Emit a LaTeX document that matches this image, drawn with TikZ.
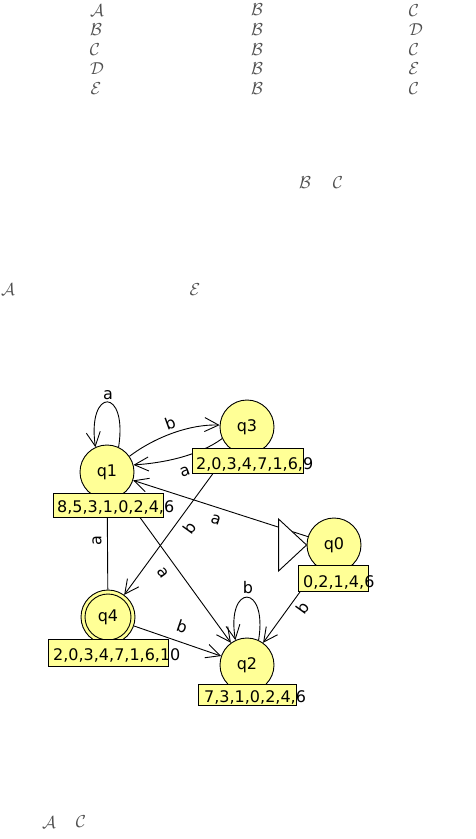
\documentclass[tikz,border=0pt]{standalone}
\usepackage{fontspec}
\setmainfont{DejaVu Sans}
\usetikzlibrary{arrows.meta,backgrounds}
\definecolor{stfill}{RGB}{255,255,150}
\definecolor{calgray}{RGB}{80,80,80}
\begin{document}
\begin{tikzpicture}[x=1pt,y=-1pt,
  state/.style={circle,draw,fill=stfill,minimum size=54pt,inner sep=0pt,line width=0.9pt,font=\fontsize{16}{16}\selectfont},
  lbox/.style={draw,fill=stfill,line width=0.9pt,inner sep=0pt,anchor=north west},
  lbl/.style={font=\fontsize{16}{16}\selectfont,inner sep=0pt,anchor=base west},
  elab/.style={font=\fontsize{16}{16}\selectfont,inner sep=0pt},
  edge/.style={line width=0.9pt,-{Straight Barb[length=14pt,width=14pt]}},
  cal/.style={text=calgray,font=\fontsize{17.28}{17.28}\selectfont,inner sep=0pt}]
\useasboundingbox (0,0) rectangle (475,839);
% calligraphic letters
\node[cal] (r1a) at (97,11) {$\mathcal{A}$};
\node[cal] (r1b) at (257,10) {$\mathcal{B}$};
\node[cal] (r1c) at (414,11) {$\mathcal{C}$};
\node[cal] (r2a) at (96,30) {$\mathcal{B}$};
\node[cal] (r2b) at (257,30) {$\mathcal{B}$};
\node[cal] (r2c) at (416,30) {$\mathcal{D}$};
\node[cal] (r3a) at (95,50) {$\mathcal{C}$};
\node[cal] (r3b) at (257,50) {$\mathcal{B}$};
\node[cal] (r3c) at (414,50) {$\mathcal{C}$};
\node[cal] (r4a) at (97,69) {$\mathcal{D}$};
\node[cal] (r4b) at (257,69) {$\mathcal{B}$};
\node[cal] (r4c) at (414,69) {$\mathcal{E}$};
\node[cal] (r5a) at (96,89) {$\mathcal{E}$};
\node[cal] (r5b) at (257,89) {$\mathcal{B}$};
\node[cal] (r5c) at (414,89) {$\mathcal{C}$};
\node[cal] (m1) at (305,183) {$\mathcal{B}$};
\node[cal] (m2) at (338,183) {$\mathcal{C}$};
\node[cal] (m3) at (8,290) {$\mathcal{A}$};
\node[cal] (m4) at (195,290) {$\mathcal{E}$};
\node[cal] (f1) at (49,823) {$\mathcal{A}$};
\node[cal] (f2) at (81,822) {$\mathcal{C}$};
% states
\node[state] (q1) at (107,472) {q1};
\node[state] (q3) at (247,427) {q3};
\node[state] (q0) at (334,545) {q0};
\node[state] (q4) at (108,617) {};
\node[state,minimum size=46pt] (q4in) at (q4) {q4};
\node[state] (q2) at (247,665) {q2};
% initial triangle
\draw[fill=white,line width=0.9pt] (q0.west) -- ++(-28,-26) -- ++(0,52) -- cycle;
% edges
\begin{scope}[on background layer]
\fill[white] (0,0) rectangle (475,839);
\draw[edge] (q1.65) .. controls (128,387) and (87,387) .. (q1.115);
\draw[edge] (q2.65) .. controls (268,583) and (226,583) .. (q2.115);
\draw[edge] (q1.35) .. controls (155,437) and (190,424) .. (q3.176);
\draw[edge] (q3.205) .. controls (200,455) and (165,463) .. (q1.15);
\draw[edge] (q3) -- (q4);
\draw[edge] (q1) -- (q2);
\draw[edge] (q0) -- (q1);
\draw[edge] (q4) -- (q1);
\draw[edge] (q4) -- (q2);
\draw[edge] (q0) -- (q2);
\end{scope}
% edge labels
\node[elab] (e1) at (108,395) {a};
\node[elab] (e2) at (248,588) {b};
\node[elab,rotate=20] (e3) at (170,423) {b};
\node[elab,rotate=20] (e4) at (185,472) {a};
\node[elab,rotate=90] (e5) at (97,541) {a};
\node[elab,rotate=54] (e6) at (190,528) {b};
\node[elab,rotate=-18] (e7) at (216,520) {a};
\node[elab,rotate=-54] (e8) at (163,573) {a};
\node[elab,rotate=-19] (e9) at (182,627) {b};
\node[elab,rotate=54] (e10) at (303,608) {b};
% label boxes
\node[lbox,minimum width=110pt,minimum height=24pt] (b1) at (53,493) {};
\node[lbl] (t1) at (57,512) {8,5,3,1,0,2,4,6};
\node[lbox,minimum width=111pt,minimum height=25pt] (b3) at (192,448) {};
\node[lbl] (t3) at (196,469) {2,0,3,4,7,1,6,9};
\node[lbox,minimum width=70pt,minimum height=26pt] (b0) at (298,565) {};
\node[lbl] (t0) at (303,587) {0,2,1,4,6};
\node[lbox,minimum width=120pt,minimum height=27pt] (b4) at (48,639) {};
\node[lbl] (t4) at (53,660) {2,0,3,4,7,1,6,10};
\node[lbox,minimum width=98pt,minimum height=21pt] (b2) at (198,684) {};
\node[lbl] (t2) at (204,702) {7,3,1,0,2,4,6};
\end{tikzpicture}
\end{document}
